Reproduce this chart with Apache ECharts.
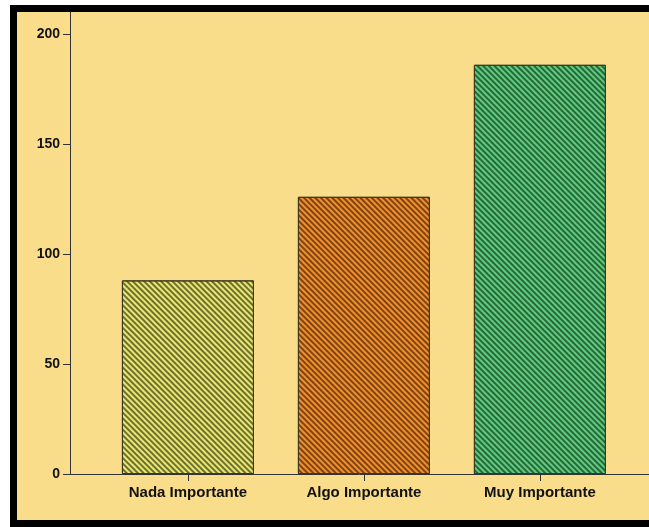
<!DOCTYPE html>
<html>
<head>
<meta charset="utf-8">
<script src="https://cdn.jsdelivr.net/npm/echarts@6/dist/echarts.min.js"></script>
<style>
  html, body { margin: 0; padding: 0; background: #ffffff; overflow: hidden; }
  #frame { position: absolute; left: 10px; top: 5px; width: 700px; height: 522px; box-sizing: border-box; border: 7px solid #000; background: #F9DD8B; }
  #chart { position: absolute; left: 0; top: 0; width: 649px; height: 527px; }
</style>
</head>
<body>
<div id="frame"></div>
<div id="chart"></div>
<script>
const categories = ['Nada Importante', 'Algo Importante', 'Muy Importante'];
const values = [88, 126, 186];
const yTicks = [0, 50, 100, 150, 200];
const fillColors = ['#E8E872', '#F0902E', '#5FCC7E'];
const stripeColors = ['rgba(60,60,20,0.7)', 'rgba(80,35,5,0.7)', 'rgba(15,60,30,0.7)'];

const chart = echarts.init(document.getElementById('chart'), null, { renderer: 'canvas' });
const positions = categories.map((c, i) => i + 1);
const font = 'Liberation Sans';

chart.setOption({
  backgroundColor: 'transparent',
  animation: false,
  grid: { left: 70, right: 0, top: 12, bottom: 53 },
  xAxis: {
    type: 'value',
    min: 0.33, max: 3.62,
    axisLine: { show: true, lineStyle: { color: '#333', width: 1 } },
    axisTick: { show: true, length: 7, customValues: positions, lineStyle: { color: '#333' } },
    splitLine: { show: false },
    axisLabel: {
      customValues: positions,
      formatter: v => categories[Math.round(v) - 1] || '',
      color: '#111', fontFamily: font, fontWeight: 'bold', fontSize: 15, margin: 11
    }
  },
  yAxis: {
    type: 'value',
    min: 0, max: 210,
    axisLine: { show: true, lineStyle: { color: '#333', width: 1 } },
    axisTick: { show: true, length: 7, customValues: yTicks, lineStyle: { color: '#333' } },
    splitLine: { show: false },
    axisLabel: {
      customValues: yTicks,
      color: '#111', fontFamily: font, fontWeight: 'bold', fontSize: 14, margin: 10
    }
  },
  series: [{
    type: 'bar',
    barWidth: 132,
    data: values.map((v, i) => ({
      value: [positions[i], v],
      itemStyle: {
        color: fillColors[i],
        borderColor: '#3a3a22',
        borderWidth: 1,
        decal: {
          symbol: 'rect',
          symbolSize: 1,
          dashArrayX: [1, 0],
          dashArrayY: [1.5, 1.5],
          rotation: Math.PI / 4,
          color: stripeColors[i]
        }
      }
    }))
  }]
});
</script>
</body>
</html>
